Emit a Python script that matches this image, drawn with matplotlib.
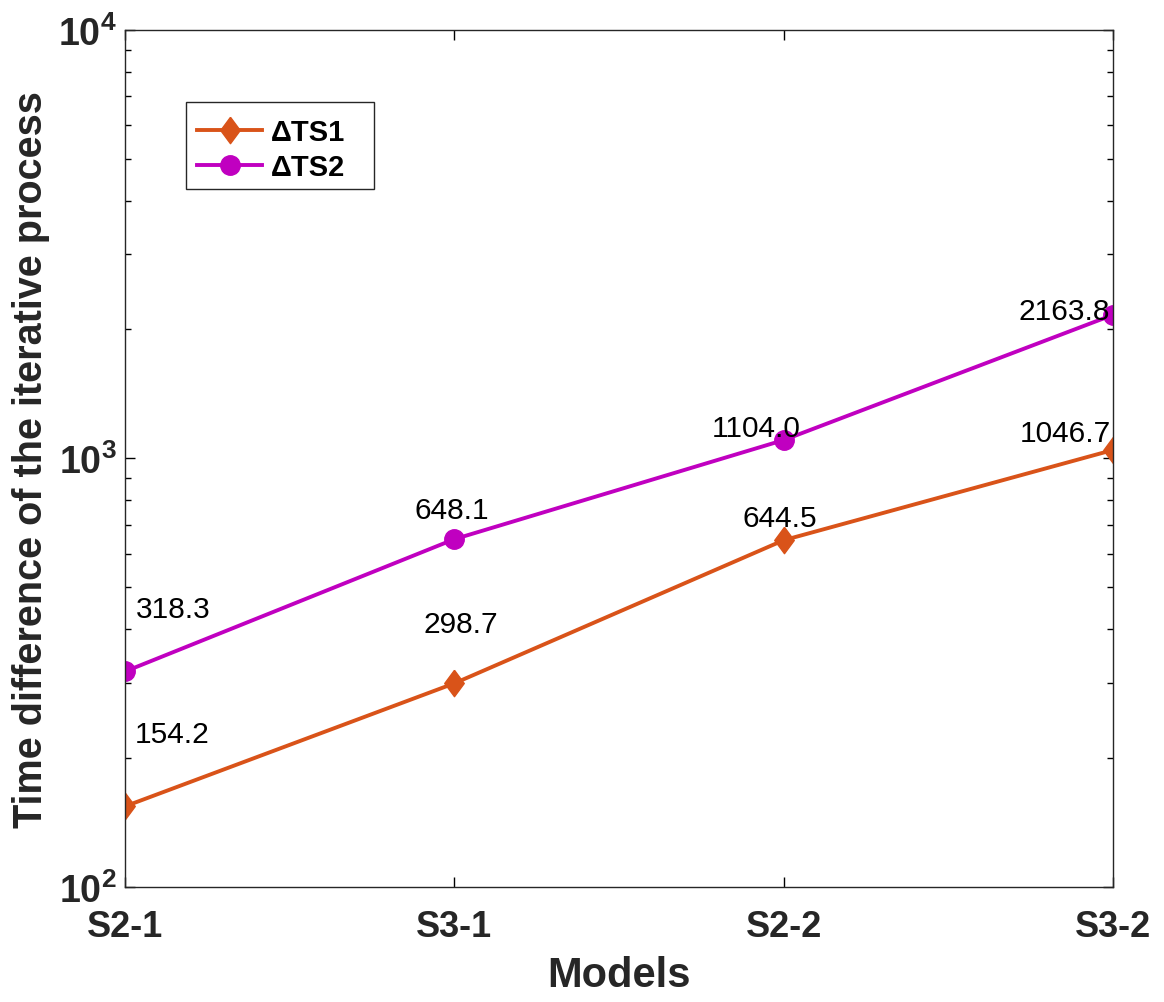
import matplotlib.pyplot as plt
import matplotlib.ticker as mticker
from matplotlib.patches import Rectangle
import numpy as np

plt.rcParams['font.family'] = ['Liberation Sans', 'DejaVu Sans']
plt.rcParams['mathtext.fontset'] = 'custom'
plt.rcParams['mathtext.rm'] = 'Liberation Sans:bold'
plt.rcParams['mathtext.bf'] = 'Liberation Sans:bold'

models = ['S2-1', 'S3-1', 'S2-2', 'S3-2']
ts1 = [154.2, 298.7, 644.5, 1046.7]
ts2 = [318.3, 648.1, 1104.0, 2163.8]
ts1_labels = ['154.2', '298.7', '644.5', '1046.7']
ts2_labels = ['318.3', '648.1', '1104.0', '2163.8']

# label offsets in points (dx, dy) from each marker
ts1_offsets = [(34, 52), (5, 43), (-3, 16), (-34, 12)]
ts2_offsets = [(35, 45), (-2, 21), (-20, 9), (-35, 3)]

orange = '#D95319'
magenta = '#C000C0'

# MATLAB-like tall diamond
diamond = [(0, 1), (0.74, 0), (0, -1), (-0.74, 0), (0, 1)]

x = np.arange(len(models))

fig = plt.figure(figsize=(11.64, 10.03), dpi=100)
ax = fig.add_axes([0.1074, 0.1147, 0.8488, 0.8544])

ax.plot(x, ts1, color=orange, linewidth=2.8, marker=diamond, markersize=19,
        markerfacecolor=orange, markeredgecolor=orange, label='ΔTS1')
ax.plot(x, ts2, color=magenta, linewidth=2.8, marker='o', markersize=14,
        markerfacecolor=magenta, markeredgecolor=magenta, label='ΔTS2')

for xi, v, lab, off in zip(x, ts1, ts1_labels, ts1_offsets):
    ax.annotate(lab, (xi, v), xytext=off, textcoords='offset points',
                ha='center', va='center', fontsize=21.5)
for xi, v, lab, off in zip(x, ts2, ts2_labels, ts2_offsets):
    ax.annotate(lab, (xi, v), xytext=off, textcoords='offset points',
                ha='center', va='center', fontsize=21.5)

ax.set_yscale('log')
ax.set_ylim(100, 10000)
ax.set_xlim(0, 3)
ax.set_xticks(x)
ax.set_xticklabels(models, fontsize=26, fontweight='bold', color='#262626')
ax.yaxis.set_major_formatter(mticker.FuncFormatter(
    lambda v, p: r'$\mathbf{10^{%d}}$' % int(round(np.log10(v)))))
ax.tick_params(axis='y', which='major', labelsize=27, labelcolor='#262626',
               direction='in', length=7, right=True, width=1.0, pad=6)
ax.tick_params(axis='y', which='minor', direction='in', length=4.5,
               right=True, width=1.0)
ax.tick_params(axis='x', direction='in', length=7, top=True, pad=16, width=1.0)
for sp in ax.spines.values():
    sp.set_linewidth(1.0)
    sp.set_color('#262626')

ax.set_xlabel('Models', fontsize=30, fontweight='bold', color='#262626', labelpad=8)
ax.set_ylabel('Time difference of the iterative process', fontsize=28.5,
              fontweight='bold', color='#262626', labelpad=6)

# legend frame drawn separately so it can be wider than the entries
ax.add_patch(Rectangle((0.0617, 0.8145), 0.1903, 0.1015, transform=ax.transAxes,
                       facecolor='white', edgecolor='#262626', linewidth=1.0,
                       zorder=4))
leg = ax.legend(loc='upper left', bbox_to_anchor=(0.0630, 0.909),
                prop={'weight': 'bold', 'size': 21}, frameon=False,
                handlelength=2.2, borderpad=0.35, labelspacing=0.25,
                handletextpad=0.3, borderaxespad=0)
leg.set_zorder(5)

plt.savefig('out.png', dpi=100)
